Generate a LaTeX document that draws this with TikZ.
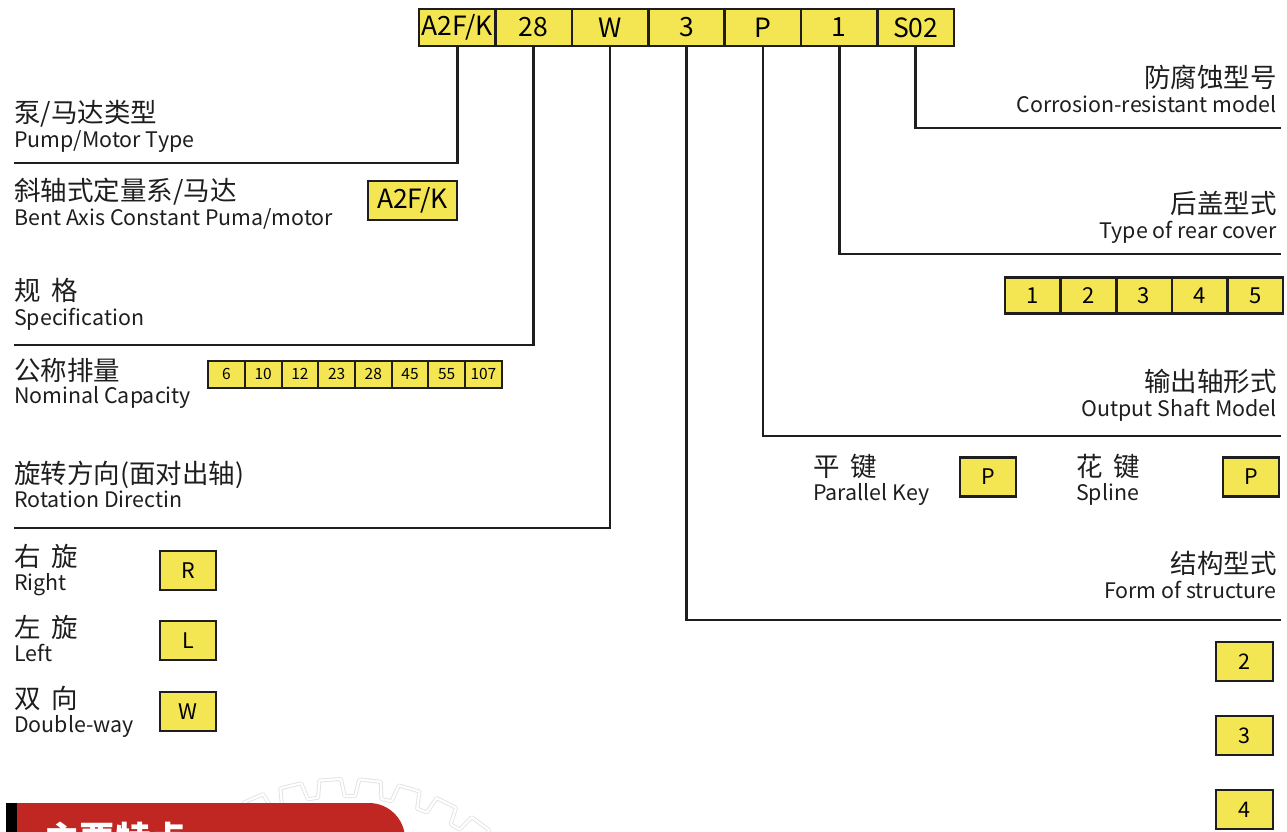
\documentclass[tikz,border=0pt]{standalone}
\usepackage{fontspec}
\setmainfont{Noto Sans CJK SC}
\definecolor{codey}{RGB}{243,230,82}
\definecolor{bannerred}{RGB}{193,39,34}
\definecolor{ink}{RGB}{30,30,30}
\definecolor{gearc}{RGB}{226,226,226}
\begin{document}
\begin{tikzpicture}[x=1pt,y=-1pt,
  conn/.style={draw=ink, line width=2.6pt},
  cbox/.style={draw=ink, line width=2.6pt, fill=codey, inner sep=0pt, text=black},
  topbox/.style={cbox, minimum width=76.4pt, minimum height=37pt, font=\fontsize{26.5}{26.5}\selectfont},
  midbox/.style={cbox, minimum width=56pt, minimum height=39pt, font=\fontsize{21.5}{21.5}\selectfont},
  rowbox/.style={cbox, minimum width=55.6pt, minimum height=36pt, font=\fontsize{22}{22}\selectfont},
  capbox/.style={cbox, line width=2pt, minimum width=36.7pt, minimum height=27pt, font=\fontsize{15.5}{15.5}\selectfont},
  cn/.style={inner sep=0pt, text=ink, font=\fontsize{26.5}{26.5}\selectfont},
  en/.style={inner sep=0pt, text=ink, font=\fontsize{21.4}{21.4}\selectfont},
  gearline/.style={draw=gearc, line width=0.9pt, double=white, double distance=2.2pt, line join=round}
]
\useasboundingbox (0,0) rectangle (1287,831);

% gear (background)
\begin{scope}[shift={(345,1008)}]
\draw[gearline] (2.8:212) \foreach \a in {6.3,16.3,...,356.3}{ -- (\a-3.6:212) -- (\a-2.7:229) -- (\a+2.7:229) -- (\a+3.6:212) } -- cycle;
\end{scope}

% top code boxes
\node[topbox] (t1) at (457.2,27.5) {A2F/K};
\node[topbox] (t2) at (533.6,27.5) {28};
\node[topbox] (t3) at (610.0,27.5) {W};
\node[topbox] (t4) at (686.4,27.5) {3};
\node[topbox] (t5) at (762.8,27.5) {P};
\node[topbox] (t6) at (839.2,27.5) {1};
\node[topbox] (t7) at (915.6,27.5) {S02};

% connectors
\coordinate (e1) at (14,163);
\coordinate (e2) at (14,345);
\coordinate (e3) at (14,528);
\coordinate (e4) at (1281,620);
\coordinate (e5) at (1281,436);
\coordinate (e6) at (1281,254);
\coordinate (e7) at (1281,128);
\draw[conn] (t1.south) |- (e1);
\draw[conn] (t2.south) |- (e2);
\draw[conn] (t3.south) |- (e3);
\draw[conn] (t4.south) |- (e4);
\draw[conn] (t5.south) |- (e5);
\draw[conn] (t6.south) |- (e6);
\draw[conn] (t7.south) |- (e7);

% left labels
\node[cn, anchor=base west] (l1c) at (14,122) {泵/马达类型};
\node[en, anchor=base west] (l1e) at (14,147) {Pump/Motor Type};
\node[cn, anchor=base west] (l2c) at (14,200) {斜轴式定量系/马达};
\node[en, anchor=base west] (l2e) at (14,225) {Bent Axis Constant Puma/motor};
\node[topbox, minimum width=89pt, minimum height=39pt] (bA) at (412.5,200.5) {A2F/K};
\node[cn, anchor=base west] (l3c) at (14,300) {规\hspace{0.4em}格};
\node[en, anchor=base west] (l3e) at (14,325) {Specification};
\node[cn, anchor=base west] (l4c) at (14,380) {公称排量};
\node[en, anchor=base west] (l4e) at (14,403) {Nominal Capacity};
\foreach \v [count=\i from 0] in {6,10,12,23,28,45,55,107}{
  \node[capbox] (cap\i) at (226.5+36.7*\i,374) {\v};
}
\node[cn, anchor=base west] (l5c) at (14,483) {旋转方向(面对出轴)};
\node[en, anchor=base west] (l5e) at (14,507) {Rotation Directin};
\node[cn, anchor=base west] (rc) at (14,566) {右\hspace{0.4em}旋};
\node[en, anchor=base west] (re) at (14,590) {Right};
\node[midbox] (bR) at (188,570.5) {R};
\node[cn, anchor=base west] (lc) at (14,637) {左\hspace{0.4em}旋};
\node[en, anchor=base west] (le) at (14,661) {Left};
\node[midbox] (bL) at (188,640.5) {L};
\node[cn, anchor=base west] (wc) at (14,708) {双\hspace{0.4em}向};
\node[en, anchor=base west] (we) at (14,732) {Double-way};
\node[midbox] (bW) at (188,711.5) {W};

% right labels
\node[cn, anchor=base east] (r1c) at (1277,87) {防腐蚀型号};
\node[en, anchor=base east] (r1e) at (1277,112) {Corrosion-resistant model};
\node[cn, anchor=base east] (r2c) at (1277,213) {后盖型式};
\node[en, anchor=base east] (r2e) at (1277,238) {Type of rear cover};
\foreach \v [count=\i from 0] in {1,2,3,4,5}{
  \node[rowbox] (rb\i) at (1032.8+55.6*\i,295.5) {\v};
}
\node[cn, anchor=base east] (r3c) at (1277,391) {输出轴形式};
\node[en, anchor=base east] (r3e) at (1277,416) {Output Shaft Model};
\node[cn, anchor=base west] (pkc) at (813,476) {平\hspace{0.4em}键};
\node[en, anchor=base west] (pke) at (813,500) {Parallel Key};
\node[midbox] (bP1) at (988,477) {P};
\node[cn, anchor=base west] (spc) at (1076,476) {花\hspace{0.4em}键};
\node[en, anchor=base west] (spe) at (1076,500) {Spline};
\node[midbox] (bP2) at (1251,477) {P};
\node[cn, anchor=base east] (r4c) at (1277,573) {结构型式};
\node[en, anchor=base east] (r4e) at (1277,598) {Form of structure};
\node[midbox, minimum width=57pt] (s2) at (1244.5,661.5) {2};
\node[midbox, minimum width=57pt] (s3) at (1244.5,735.5) {3};
\node[midbox, minimum width=57pt] (s4) at (1244.5,809.5) {4};

% banner
\fill[black] (6,803) rectangle (17,840);
\fill[bannerred] (17,840) -- (17,803) [rounded corners=36pt] -- (405,803) [sharp corners] -- (405,840) -- cycle;
\node[anchor=base west, inner sep=0pt, text=white, font=\fontsize{35.5}{35.5}\selectfont\bfseries] (ban) at (44,852) {主要特点};
\end{tikzpicture}
\end{document}
